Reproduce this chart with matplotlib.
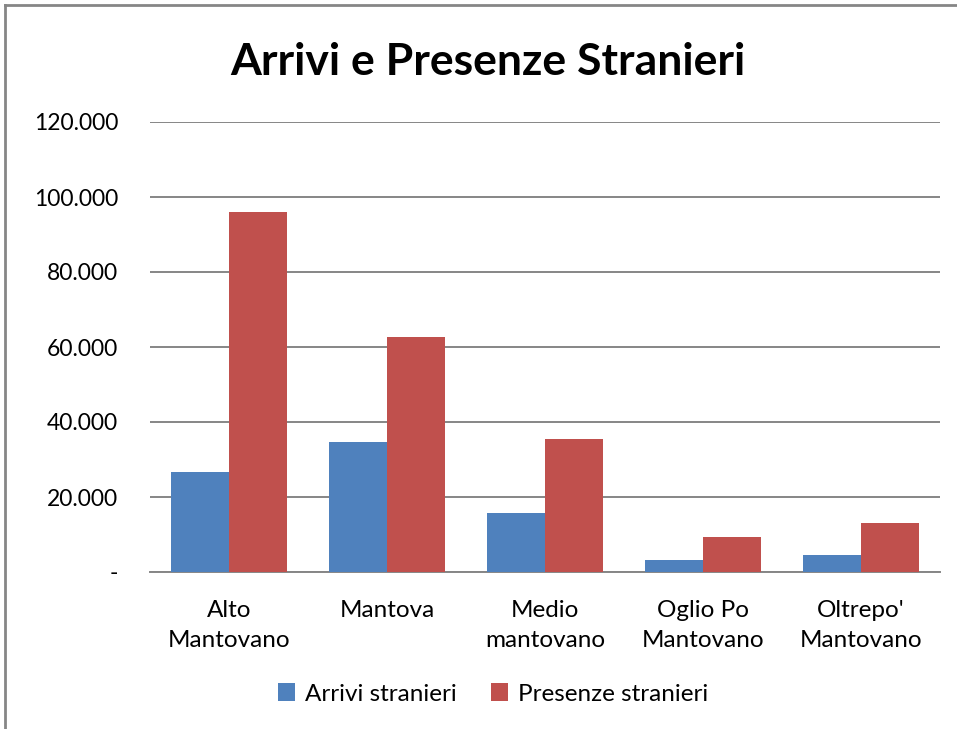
import matplotlib
matplotlib.use("Agg")
import matplotlib.pyplot as plt
from matplotlib.lines import Line2D
from matplotlib.ticker import FuncFormatter
import numpy as np

plt.rcParams['font.family'] = ['Lato', 'DejaVu Sans']

categories = ["Alto\nMantovano", "Mantova", "Medio\nmantovano", "Oglio Po\nMantovano", "Oltrepo'\nMantovano"]
arrivi = [26700, 34700, 15700, 3200, 4500]
presenze = [96000, 62700, 35500, 9300, 13100]
series_names = ["Arrivi stranieri", "Presenze stranieri"]
yticks = [0, 20000, 40000, 60000, 80000, 100000, 120000]
title = "Arrivi e Presenze Stranieri"

W, H = 957, 729
fig = plt.figure(figsize=(W/100, H/100), dpi=100)
ax = fig.add_axes([150/W, 1-572/H, 790/W, 450/H])

x = np.arange(len(categories))
bw = 0.365
blue = "#4F81BD"
red = "#C0504D"
ax.bar(x - bw/2, arrivi, width=bw, color=blue, label=series_names[0], zorder=3)
ax.bar(x + bw/2, presenze, width=bw, color=red, label=series_names[1], zorder=3)

ax.set_xlim(-0.5, len(categories) - 0.5)
ax.set_ylim(0, 120000)
ax.set_yticks(yticks)
def fmt(v, pos):
    if v == 0:
        return "-"
    return f"{int(v):,}".replace(",", ".")
ax.yaxis.set_major_formatter(FuncFormatter(fmt))
ax.grid(axis='y', color="#868686", linewidth=1.4, zorder=0)
for s in ['top', 'right', 'left']:
    ax.spines[s].set_visible(False)
ax.spines['bottom'].set_color("#868686")
ax.spines['bottom'].set_linewidth(1.4)
ax.tick_params(axis='y', length=0, pad=23, labelsize=16.5)
ax.tick_params(axis='x', length=0, pad=20, labelsize=17.5)
ax.set_xticks(x)
ax.set_xticklabels(categories, linespacing=1.55)

fig.text(488/W, 1-62/H, title, ha='center', va='center', fontsize=32, fontweight='bold')

fig.legend(loc='center', bbox_to_anchor=(493/W, 1-694/H), ncol=2, frameon=False,
           fontsize=17.5, handlelength=0.7, handleheight=0.7, columnspacing=1.4, handletextpad=0.4)

fig.add_artist(Line2D([5/W, 5/W], [0, 1-5/H], color="#868686", linewidth=2, transform=fig.transFigure))
fig.add_artist(Line2D([5/W, 1], [1-5/H, 1-5/H], color="#868686", linewidth=2, transform=fig.transFigure))

fig.savefig("out.png", dpi=100)
